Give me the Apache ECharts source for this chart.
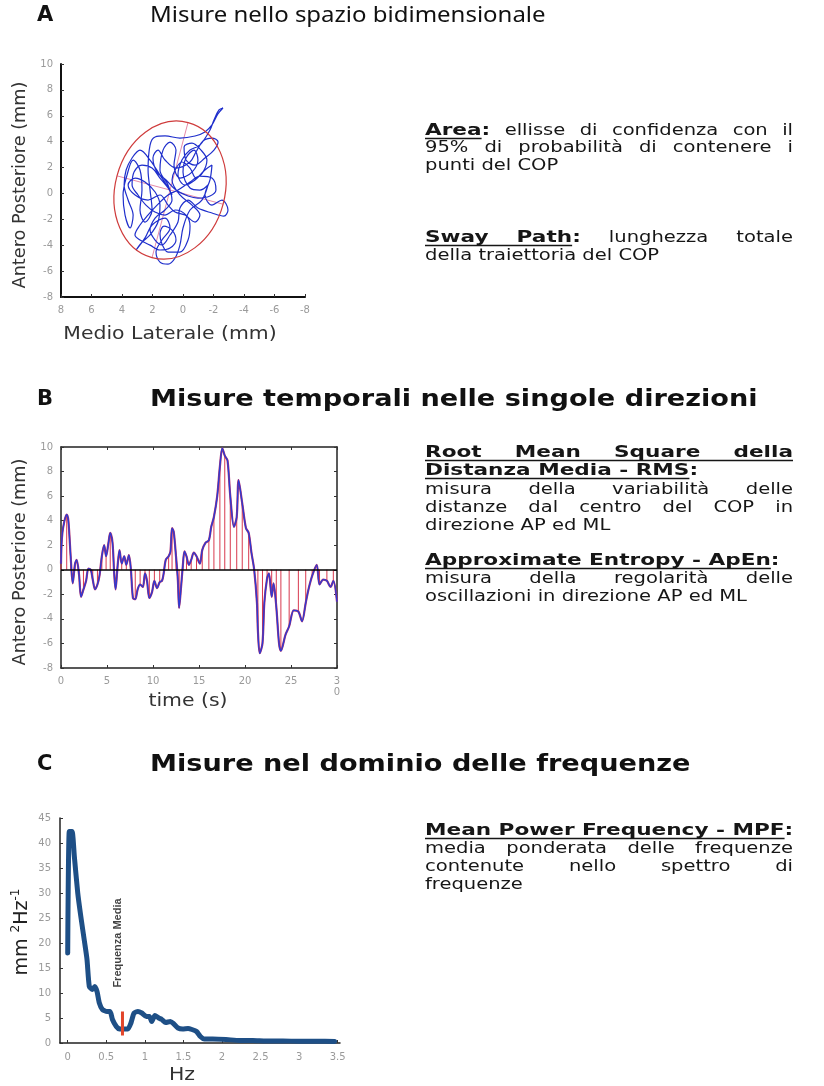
<!DOCTYPE html>
<html>
<head>
<meta charset="utf-8">
<script src="https://cdn.jsdelivr.net/npm/echarts@6/dist/echarts.min.js"></script>
<style>
html,body{margin:0;padding:0;background:#fff;}
#c{width:824px;height:1086px;}
</style>
</head>
<body>
<div id="c"></div>
<script>
// ---------------- DATA ----------------
// Panel A: COP trajectory (Medio Laterale mm, Antero Posteriore mm)
const copPath = [
  [0.85,0.26],[1.51,1.42],[2.16,2.58],[2.82,3.35],[3.34,2.74],[3.73,1.81],[3.86,0.65],[3.60,-0.51],
  [3.27,-1.67],[3.47,-2.67],[3.80,-1.67],[3.93,-0.12],[3.67,1.42],[3.27,2.58],[2.82,1.81],[2.69,0.26],
  [2.82,-1.28],[2.49,-2.21],[2.03,-1.28],[2.16,0.26],[2.29,1.81],[2.16,3.74],[1.83,4.36],[1.18,4.44],
  [0.20,4.28],[-0.79,4.44],[-1.44,4.75],[-1.90,5.29],[-2.29,6.14],[-2.62,6.60],[-2.36,6.45],[-2.03,5.67],
  [-1.77,4.90],[-1.11,3.74],[-0.46,3.35],[0.07,2.58],[0.33,1.42],[-0.13,0.65],[-0.79,1.04],[-1.44,1.81],
  [-1.90,2.19],[-1.77,1.04],[-1.44,-0.12],[-1.90,-0.90],[-2.55,-0.51],[-2.95,-1.28],[-2.68,-1.75],[-1.90,-1.51],
  [-0.98,-1.13],[-0.33,-0.51],[0.20,-1.13],[0.33,-2.21],[0.85,-3.21],[1.38,-3.98],[1.83,-3.60],[2.16,-2.83],
  [1.83,-1.90],[1.18,-1.28],[0.72,-0.51],[0.98,0.65],[1.51,1.81],[1.31,3.35],[0.85,3.97],[0.46,3.35],
  [0.59,2.19],[0.20,1.19],[-0.59,1.65],[-0.98,2.58],[-0.72,3.35],[-0.20,2.74],[0,1.65],[-0.46,0.42],
  [-1.11,0.26],[-1.64,0.65],[-1.24,-0.51],[-0.46,-1.28],[0,-2.67],[0.20,-3.98],[0.52,-4.99],[0.98,-5.46],
  [1.51,-5.30],[1.77,-4.53],[1.38,-3.60],[0.85,-2.67],[1.18,-1.90],[2.03,-2.44],[2.49,-3.43],[3.08,-4.37],
  [2.69,-3.76],[2.16,-3.21],[1.64,-2.21],[1.51,-0.90],[1.83,0.11],[2.49,0.88],[3.14,1.19],[3.60,0.65],
  [3.14,-0.12],[2.29,-0.51],[1.51,-0.12],[0.98,-0.90],[0.52,-1.44],[-0.13,-1.67],[-0.79,-2.21],[-1.11,-1.67],
  [-0.59,-0.90],[0.20,-0.12],[0.72,1.04],[0.52,1.81],
  [0.07,2.43],[-0.46,1.96],[-0.85,1.19],[-1.31,1.65],[-1.57,2.58],[-1.18,3.35],[-0.59,3.89],[-0.07,3.59],
  [-0.20,2.58],[-0.79,2.19],[-1.44,2.74],[-2.03,3.35],[-2.30,3.97],[-1.90,4.28],[-1.31,4.05],[-0.85,3.20],
  [-0.46,2.43],[0.46,1.96],[1.18,2.58],[1.64,3.35],[1.97,2.74],[1.70,1.65],[1.11,1.04],[0.46,0.26],
  [-0.33,-0.20],[-0.98,-0.36],[-1.77,-0.20],[-2.16,0.26],[-1.90,1.19],[-1.11,1.34],[-0.46,0.88],[0.33,0.26],
  [0.98,-0.12],[1.70,-0.90],[2.30,-1.67],[2.82,-2.44],[3.15,-3.21],[2.82,-3.60],[2.16,-3.99],[1.51,-4.37],
  [0.85,-4.22],[0.46,-3.60],[0.72,-2.83],[1.25,-2.52],[1.51,-3.14],[1.38,-3.91],[0.98,-4.53],[0.20,-4.53],
  [-0.33,-3.60],[-0.46,-2.52],[-0.20,-1.67],[0.52,-1.28],[1.18,-1.67],[1.84,-1.44],[2.43,-0.90],[2.95,-0.12],
  [3.34,0.65],[3.21,1.65],[2.69,2.19],[2.03,1.96],[1.51,1.19],[0.98,0.42],[0.72,-0.12]
];
// 95% confidence ellipse: [centre ML, centre AP, semi-axis ML, semi-axis AP, tilt deg]
const ellipse95 = [0.85, 0.26, 3.6, 5.4, 15];
const ellipseMajorAxis = [[-0.33,5.49],[2.03,-4.96]];
const ellipseMinorAxis = [[4.33,1.36],[-2.62,-0.83]];

// Panel B: AP displacement vs time [s, mm]
const apSignal = [
  [0,0.5],[0.15,3.0],[0.62,4.5],[0.8,4.0],[1.05,1.1],[1.27,-1.1],[1.53,0.5],[1.7,0.8],[1.96,-0.4],
  [2.18,-2.2],[2.44,-1.6],[2.73,-0.9],[2.98,0.1],[3.24,0],[3.45,-0.8],[3.7,-1.6],[3.96,-1.2],[4.18,-0.5],
  [4.44,1.1],[4.69,2.0],[4.9,1.1],[5.16,2.2],[5.35,3.0],[5.6,2.2],[5.78,-0.3],[5.93,-1.6],[6.15,0.3],
  [6.36,1.6],[6.6,0.5],[6.87,1.1],[7.1,0.4],[7.38,1.2],[7.6,0],[7.82,-2.3],[8.07,-2.4],[8.33,-1.6],
  [8.6,-1.2],[8.9,-1.4],[9.13,-0.3],[9.35,-0.9],[9.6,-2.3],[9.9,-1.8],[10.15,-0.9],[10.44,-1.5],[10.73,-1.0],
  [10.98,-0.9],[11.16,-0.3],[11.38,0.8],[11.7,1.1],[11.9,1.5],[12.07,3.4],[12.25,3.1],[12.5,1.1],[12.7,-0.8],
  [12.84,-3.1],[13.05,-1.4],[13.24,0.3],[13.42,1.5],[13.64,1.1],[13.9,0.4],[14.15,0.8],[14.44,1.4],[14.73,1.1],
  [15.1,0.5],[15.35,1.6],[15.7,2.2],[16.07,2.4],[16.33,3.5],[16.62,4.3],[16.98,6.0],[17.27,8.4],[17.53,9.9],
  [17.8,9.3],[18.1,8.9],[18.4,6.0],[18.8,3.5],[19.1,4.3],[19.3,7.3],[19.7,5.4],[20.1,3.4],[20.4,3.0],
  [20.7,1.4],[21.0,0],[21.3,-2.7],[21.4,-4.9],[21.6,-6.8],[21.9,-6.0],[22.1,-2.7],[22.4,-0.7],[22.6,-0.3],
  [22.9,-2.2],[23.1,-1.1],[23.4,-3.0],[23.7,-6.0],[23.9,-6.6],[24.4,-5.3],[24.8,-4.6],[25.3,-3.3],[25.8,-3.4],
  [26.2,-4.2],[26.6,-2.7],[26.9,-1.6],[27.3,-0.5],[27.8,0.4],[28.1,-1.2],[28.5,-0.8],[28.9,-0.9],[29.3,-1.4],
  [29.6,-0.9],[30,-2.6]
];

// Panel C: power spectrum [Hz, mm^2 Hz^-1]
const spectrum = [
  [0,18],[0.02,42.3],[0.056,42.3],[0.086,37.3],[0.13,30],[0.17,25.3],[0.22,20],[0.25,16.7],[0.28,11.3],
  [0.32,10.7],[0.35,11.3],[0.38,10.3],[0.41,8],[0.45,6.7],[0.51,6.3],[0.55,6.3],[0.58,4.7],[0.63,3.3],
  [0.67,2.8],[0.72,2.8],[0.78,2.8],[0.82,4],[0.86,6],[0.91,6.3],[0.96,6],[1.02,5.3],[1.06,5.3],[1.09,4.3],
  [1.13,5.5],[1.18,5],[1.22,4.7],[1.27,4.1],[1.33,4.3],[1.37,3.9],[1.43,3],[1.49,2.8],[1.56,2.9],[1.61,2.7],
  [1.67,2.3],[1.72,1.3],[1.77,0.8],[1.88,0.8],[2.05,0.7],[2.23,0.5],[2.4,0.5],[2.57,0.4],[2.79,0.4],
  [3.0,0.35],[3.22,0.35],[3.46,0.3]
];
const freqTicks = [0,0.5,1,1.5,2,2.5,3,3.5];
const meanFreqHz = 0.71;
const meanFreqMarker = [[meanFreqHz,1.5],[meanFreqHz,6.3]];
const meanFreqLabelAt = [[0.65,20]];

// Texts
const panelLetters = ['A','B','C'];
const panelTitles = ['Misure nello spazio bidimensionale','Misure temporali nelle singole direzioni','Misure nel dominio delle frequenze'];
const axisNames = {
  aY:'Antero Posteriore (mm)', aX:'Medio Laterale (mm)',
  bY:'Antero Posteriore (mm)', bX:'time (s)',
  cX:'Hz'
};
const textA = [
  {t:'Area: ellisse di confidenza con il', h:'Area', j:1},
  {t:'95% di probabilità di contenere i', j:1},
  {t:'punti del COP'},
  {t:'Sway Path: lunghezza totale', h:'Sway Path', j:1},
  {t:'della traiettoria del COP'}
];
const textB = [
  {t:'Root Mean Square della', h:'Root Mean Square della', j:1},
  {t:'Distanza Media - RMS:', h:'Distanza Media - RMS'},
  {t:'misura della variabilità delle', j:1},
  {t:'distanze dal centro del COP in', j:1},
  {t:'direzione AP ed ML'},
  {t:'Approximate Entropy - ApEn:', h:'Approximate Entropy - ApEn'},
  {t:'misura della regolarità delle', j:1},
  {t:'oscillazioni in direzione AP ed ML'}
];
const textC = [
  {t:'Mean Power Frequency - MPF:', h:'Mean Power Frequency - MPF'},
  {t:'media ponderata delle frequenze', j:1},
  {t:'contenute nello spettro di', j:1},
  {t:'frequenze'}
];

// ---------------- LAYOUT ----------------
const BODY_SIZE = 16;
const BODY_FAMILY = '"DejaVu Sans", Verdana, sans-serif';
const BODY_SCALE = {reg:1.22, bold:1.35};
const TXT_COLOR = '#161616';
const layoutA = {x0:425, x1:793, ys:[131,148,166,238,256]};
const layoutB = {x0:425, x1:793, ys:[453,471,490,508,526,561,579,597]};
const layoutC = {x0:425, x1:793, ys:[831,849,867,885]};

const meas = document.createElement('canvas').getContext('2d');
function fontStr(bold){ return (bold ? 'bold ' : '') + BODY_SIZE + 'px ' + BODY_FAMILY; }
function sc(bold){ return bold ? BODY_SCALE.bold : BODY_SCALE.reg; }
function tw(s, bold){ meas.font = fontStr(bold); return meas.measureText(s).width * sc(bold); }

function addLine(els, line, x0, x1, y){
  const words = [];
  let rest = line.t;
  if (line.h){
    const hw = line.j ? line.h.split(' ') : [line.h];
    hw.forEach(w => words.push([{s:w, b:true, u:true}]));
    rest = rest.slice(line.h.length);
    if (rest.startsWith(':')){ words[words.length-1].push({s:':', b:true, u:false}); rest = rest.slice(1); }
  }
  rest.trim().split(/\s+/).filter(Boolean).forEach(w => words.push([{s:w, b:false, u:false}]));
  words.forEach(wd => wd.forEach(sg => sg.w = tw(sg.s, sg.b)));
  const ww = words.map(wd => wd.reduce((a,sg)=>a+sg.w,0));
  const total = ww.reduce((a,b)=>a+b,0);
  const justify = line.j && words.length > 1;
  const gapJ = justify ? (x1 - x0 - total)/(words.length-1) : 0;
  let x = x0, ulS = null, ulE = null;
  words.forEach((wd, i) => {
    let sx = x;
    wd.forEach(sg => {
      els.push({type:'text', x:sx, y:y, scaleX:sc(sg.b), silent:true,
        style:{text:sg.s, font:fontStr(sg.b), fill:TXT_COLOR, textAlign:'left', textVerticalAlign:'middle', align:'left', verticalAlign:'middle'}});
      if (sg.u){ if (ulS === null) ulS = sx; ulE = sx + sg.w; }
      sx += sg.w;
    });
    const gap = justify ? gapJ : tw(' ', wd[0].b);
    x += ww[i] + gap;
  });
  if (ulS !== null){
    els.push({type:'line', silent:true, shape:{x1:ulS, y1:y+7.5, x2:ulE, y2:y+7.5}, style:{stroke:TXT_COLOR, lineWidth:1.3}});
  }
}

const graphics = [];
[[textA, layoutA],[textB, layoutB],[textC, layoutC]].forEach(([lines, lay]) => {
  lines.forEach((ln, i) => addLine(graphics, ln, lay.x0, lay.x1, lay.ys[i]));
});

// Panel headings
const headY = [16, 400, 765];
panelLetters.forEach((L, i) => {
  graphics.push({type:'text', x:37, y:headY[i], silent:true,
    style:{text:L, font:'900 21px "DejaVu Sans", sans-serif', fill:'#111', textAlign:'left', textVerticalAlign:'middle', align:'left', verticalAlign:'middle'}});
  graphics.push({type:'text', x:150, y:headY[i], silent:true, scaleX: i === 0 ? 1.09 : 1.18,
    style:{text:panelTitles[i], font: i === 0 ? '22px "Noto Sans", sans-serif' : 'bold 23px "DejaVu Sans", sans-serif',
      fill:'#111', textAlign:'left', textVerticalAlign:'middle', align:'left', verticalAlign:'middle'}});
});

// Axis names
const nameFont = '17px "DejaVu Sans", sans-serif';
function axName(text, x, y, rot){
  graphics.push({type:'text', x:x, y:y, rotation: rot ? Math.PI/2 : 0, scaleX: rot ? 1.04 : 1.2, silent:true,
    style:{text:text, font:nameFont, fill:'#333', textAlign:'center', textVerticalAlign:'middle', align:'center', verticalAlign:'middle'}});
}
axName(axisNames.aY, 21, 185, true);
axName(axisNames.aX, 170, 335, false);
axName(axisNames.bY, 21, 562, true);
axName(axisNames.bX, 188, 702, false);
axName(axisNames.cX, 182, 1076, false);
graphics.push({type:'text', x:22, y:932, rotation:Math.PI/2, silent:true,
  style:{text:'{a|mm }{s|2}{a|Hz}{s|-1}', fill:'#222', textAlign:'center', textVerticalAlign:'middle', align:'center', verticalAlign:'middle',
    rich:{a:{font:'19px "DejaVu Sans", sans-serif', fill:'#222', lineHeight:24}, s:{font:'12px "DejaVu Sans", sans-serif', fill:'#222', verticalAlign:'top'}}}});

// ---------------- CHART ----------------
const tickLbl = {color:'#9a9a9a', fontSize:10, fontFamily:'"DejaVu Sans", sans-serif'};
const axLine = {show:true, onZero:false, lineStyle:{color:'#111', width:2}};
const axLineThin = {show:true, onZero:false, lineStyle:{color:'#222', width:1.5}};
const tickIn = {show:true, inside:true, length:3, lineStyle:{color:'#333', width:1}};

const option = {
  backgroundColor:'#ffffff',
  animation:false,
  grid:[
    {left:61, top:64, width:244, height:233},
    {left:61, top:447, width:276, height:221},
    {left:60, top:818, width:280, height:225}
  ],
  xAxis:[
    {gridIndex:0, type:'value', inverse:true, min:-8, max:8, interval:2, axisLine:axLine, axisTick:tickIn,
      axisLabel:Object.assign({margin:8}, tickLbl), splitLine:{show:false}},
    {gridIndex:1, type:'value', min:0, max:30, interval:5, position:'bottom', axisLine:axLineThin, axisTick:tickIn,
      axisLabel:Object.assign({margin:8, lineHeight:11, formatter:v => v === 30 ? '3\n0' : String(v)}, tickLbl), splitLine:{show:false}},
    {gridIndex:1, type:'value', min:0, max:30, interval:5, position:'top', axisLine:axLineThin, axisTick:tickIn,
      axisLabel:{show:false}, splitLine:{show:false}},
    {gridIndex:2, type:'value', min:-0.1, max:3.53, axisLine:axLineThin,
      axisTick:Object.assign({customValues:freqTicks}, tickIn),
      axisLabel:Object.assign({margin:9, customValues:freqTicks}, tickLbl), splitLine:{show:false}}
  ],
  yAxis:[
    {gridIndex:0, type:'value', min:-8, max:10, interval:2, axisLine:axLine, axisTick:tickIn,
      axisLabel:Object.assign({margin:8}, tickLbl), splitLine:{show:false}},
    {gridIndex:1, type:'value', min:-8, max:10, interval:2, position:'left', axisLine:axLineThin, axisTick:tickIn,
      axisLabel:Object.assign({margin:8}, tickLbl), splitLine:{show:false}},
    {gridIndex:1, type:'value', min:-8, max:10, interval:2, position:'right', axisLine:axLineThin, axisTick:tickIn,
      axisLabel:{show:false}, splitLine:{show:false}},
    {gridIndex:2, type:'value', min:0, max:45, interval:5, axisLine:axLineThin, axisTick:tickIn,
      axisLabel:Object.assign({margin:9}, tickLbl), splitLine:{show:false}}
  ],
  graphic:{elements:graphics},
  series:[
    // ---- Panel A
    {type:'line', xAxisIndex:0, yAxisIndex:0, data:ellipseMajorAxis, symbol:'none', silent:true,
      lineStyle:{color:'#e58aa8', width:1}, z:2},
    {type:'line', xAxisIndex:0, yAxisIndex:0, data:ellipseMinorAxis, symbol:'none', silent:true,
      lineStyle:{color:'#e58aa8', width:1}, z:2},
    {type:'line', xAxisIndex:0, yAxisIndex:0, data:copPath, symbol:'none', smooth:0.35, silent:true,
      lineStyle:{color:'#1f2fcc', width:1.2}, z:3},
    {type:'custom', xAxisIndex:0, yAxisIndex:0, data:[ellipse95], silent:true, z:4,
      renderItem:(params, api) => {
        const c = api.coord([api.value(0), api.value(1)]);
        const s = api.size([api.value(2), api.value(3)]);
        return {type:'ellipse', x:c[0], y:c[1], rotation:-api.value(4)*Math.PI/180,
          shape:{cx:0, cy:0, rx:Math.abs(s[0]), ry:Math.abs(s[1])},
          style:{fill:'none', stroke:'#cf3b3b', lineWidth:1.2}};
      }},
    // ---- Panel B
    {type:'bar', xAxisIndex:1, yAxisIndex:1, data:apSignal.filter((d,i) => i % 2 === 0), barWidth:1, silent:true,
      itemStyle:{color:'#d8394e'}, z:2},
    {type:'line', xAxisIndex:1, yAxisIndex:1, data:apSignal, symbol:'none', smooth:0.3, silent:true,
      lineStyle:{color:'#b0306e', width:2.2}, z:3,
      markLine:{silent:true, symbol:'none', label:{show:false}, lineStyle:{color:'#000', width:1.5, type:'solid'}, data:[{yAxis:0}]}},
    {type:'line', xAxisIndex:1, yAxisIndex:1, data:apSignal, symbol:'none', smooth:0.3, silent:true,
      lineStyle:{color:'#2b3bd4', width:1.3}, z:4},
    // ---- Panel C
    {type:'line', xAxisIndex:3, yAxisIndex:3, data:spectrum, symbol:'none', smooth:0.2, silent:true,
      lineStyle:{color:'#1e4f86', width:5, cap:'round', join:'round'}, z:3},
    {type:'line', xAxisIndex:3, yAxisIndex:3, data:meanFreqMarker, symbol:'none', silent:true,
      lineStyle:{color:'#e2452a', width:3}, z:4},
    {type:'scatter', xAxisIndex:3, yAxisIndex:3, data:meanFreqLabelAt, symbolSize:0, silent:true, z:5,
      label:{show:true, position:'inside', rotate:90, formatter:'Frequenza Media',
        fontSize:11, fontWeight:'bold', fontFamily:'"Liberation Sans", Arial, sans-serif', color:'#111'}}
  ]
};

const chart = echarts.init(document.getElementById('c'), null, {renderer:'canvas', width:824, height:1086});
chart.setOption(option);
</script>
</body>
</html>
